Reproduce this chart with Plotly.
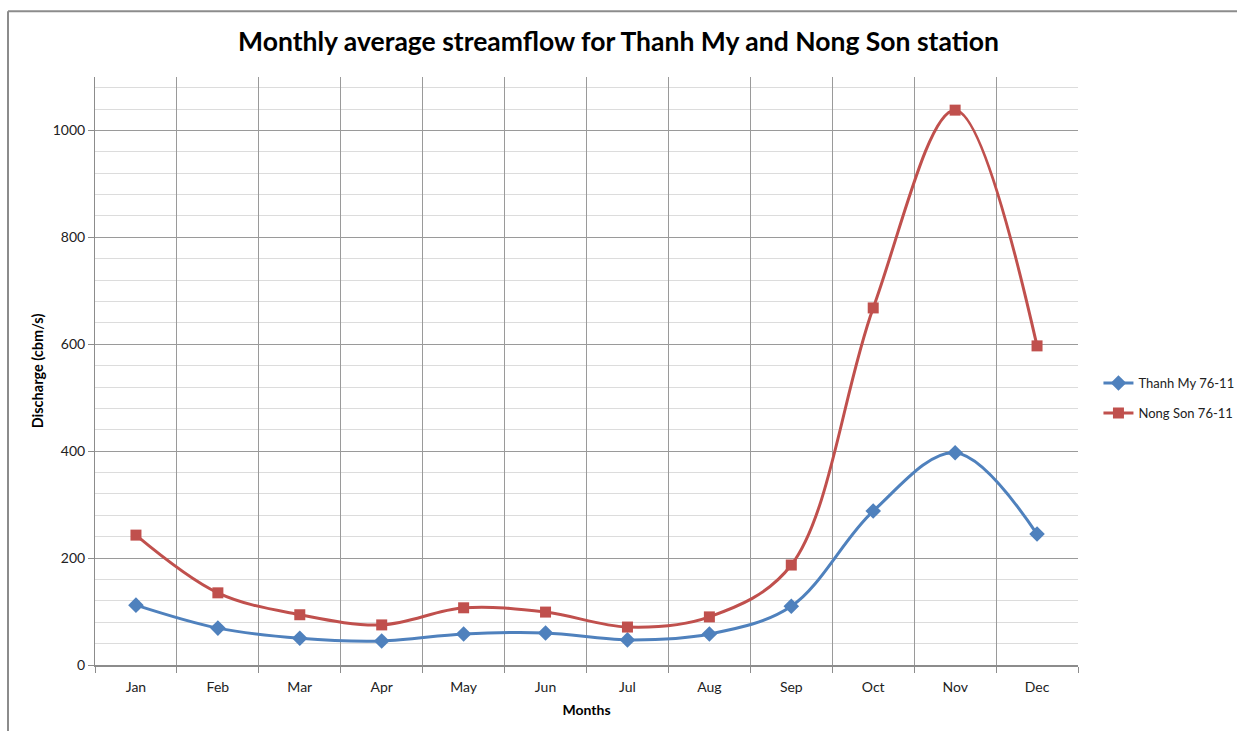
import plotly.graph_objects as go

months = ['Jan', 'Feb', 'Mar', 'Apr', 'May', 'Jun', 'Jul', 'Aug', 'Sep', 'Oct', 'Nov', 'Dec']
thanh_my = [112, 69, 50, 45, 58, 60, 47, 58, 110, 288, 397, 245]
nong_son = [243, 135, 94, 75, 107, 99, 71, 90, 187, 668, 1038, 597]

FONT = 'Lato'
BLUE = '#4F81BD'
RED = '#C0504D'

fig = go.Figure()

fig.add_trace(go.Scatter(
    x=months, y=thanh_my, name='Thanh My 76-11', legendgroup='tm',
    mode='lines+markers',
    line=dict(color=BLUE, width=3, shape='spline', smoothing=1.0),
    marker=dict(symbol='diamond', size=12, color=BLUE),
))
fig.add_trace(go.Scatter(
    x=months, y=nong_son, name='Nong Son 76-11', legendgroup='ns',
    mode='lines+markers',
    line=dict(color=RED, width=3, shape='spline', smoothing=1.0),
    marker=dict(symbol='square', size=11, color=RED),
))

# outer chart frame (left and top edges, as in the picture)
fig.add_shape(type='line', xref='paper', yref='paper',
              x0=-0.0885, x1=1.2, y0=1.112, y1=1.112,
              line=dict(color='#8c8c8c', width=2))
fig.add_shape(type='line', xref='paper', yref='paper',
              x0=-0.0885, x1=-0.0885, y0=1.112, y1=-0.2,
              line=dict(color='#8c8c8c', width=2))

fig.update_layout(
    width=1237, height=731,
    margin=dict(l=95, r=159, t=77, b=66),
    paper_bgcolor='white', plot_bgcolor='white',
    font=dict(family=FONT, size=14, color='#222'),
    title=dict(
        text='<b>Monthly average streamflow for Thanh My and Nong Son station</b>',
        x=0.5, xref='container', xanchor='center', y=0.943, yanchor='middle',
        font=dict(family=FONT, size=26.5, color='black'),
    ),
    legend=dict(
        xref='container', x=0.888, y=0.454, xanchor='left', yanchor='middle',
        font=dict(family=FONT, size=13, color='#222'),
        bgcolor='rgba(0,0,0,0)', tracegroupgap=10,
    ),
    showlegend=True,
)

fig.update_xaxes(
    type='category', tickson='boundaries', range=[-0.5, 11.5], automargin=False,
    showgrid=True, gridcolor='#9a9a9a', gridwidth=1,
    showline=True, linecolor='#8c8c8c', linewidth=1.5,
    ticks='outside', ticklen=6, tickcolor='#8c8c8c',
    ticklabelstandoff=8,
    tickfont=dict(family=FONT, size=14, color='#222'),
    title=dict(text='<b>Months</b>', font=dict(family=FONT, size=14, color='black'), standoff=12),
)
fig.update_yaxes(
    range=[0, 1100], dtick=200, tick0=0, automargin=False,
    showgrid=True, gridcolor='#9a9a9a', gridwidth=1,
    minor=dict(dtick=40, showgrid=True, gridcolor='#dcdcdc', gridwidth=1, ticks=''),
    showline=True, linecolor='#8c8c8c', linewidth=1,
    ticks='outside', ticklen=6, tickcolor='#8c8c8c',
    tickfont=dict(family=FONT, size=14, color='#222'),
    title=dict(text='<b>Discharge (cbm/s)</b>', font=dict(family=FONT, size=14.5, color='black'), standoff=5),
    zeroline=False,
)

fig.write_html('out.html', config={'displayModeBar': False},
               post_script="document.body.style.margin='0';")
